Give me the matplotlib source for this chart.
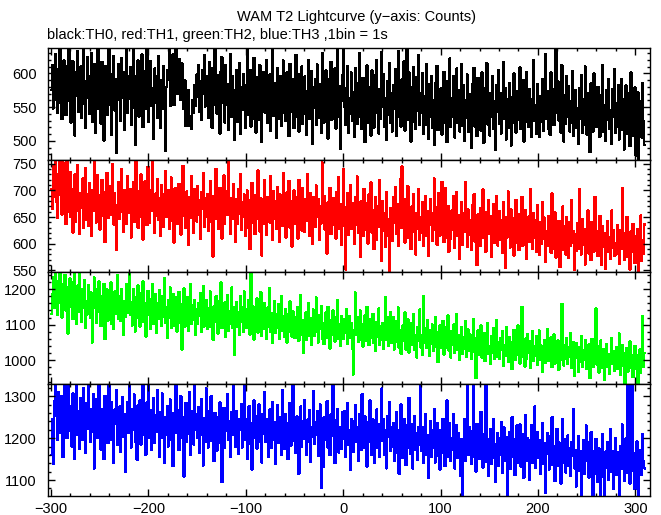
import numpy as np
import matplotlib
matplotlib.use("Agg")
import matplotlib.pyplot as plt
from matplotlib.ticker import MultipleLocator

plt.rcParams['font.family'] = ['Liberation Sans', 'DejaVu Sans']

title = "WAM T2 Lightcurve (y\u2212axis: Counts)"
subtitle = "black:TH0, red:TH1, green:TH2, blue:TH3 ,1bin = 1s"
t_start = -300
bin_width = 1

th0 = [
575, 612, 548, 597, 629, 560, 541, 606, 583, 641,
556, 532, 594, 619, 571, 538, 611, 585, 645, 559,
527, 580, 618, 551, 508, 601, 567, 633, 543, 592,
610, 534, 572, 640, 555, 519, 588, 624, 563, 540,
596, 630, 528, 574, 614, 512, 561, 603, 642, 547,
579, 525, 617, 590, 500, 566, 611, 538, 585, 648,
553, 598, 509, 577, 626, 545, 592, 482, 560, 613,
584, 530, 622, 563, 601, 516, 579, 636, 541, 595,
562, 609, 523, 587, 644, 549, 494, 596, 570, 619,
536, 591, 561, 628, 520, 603, 576, 548, 643, 566,
528, 585, 618, 552, 578, 503, 607, 557, 596, 534,
625, 569, 519, 590, 548, 611, 565, 485, 580, 604,
590, 638, 552, 597, 571, 628, 553, 604, 640, 569,
575, 621, 588, 560, 615, 578, 547, 590, 522, 560,
522, 575, 522, 537, 518, 560, 541, 583, 552, 598,
565, 612, 543, 588, 531, 604, 570, 627, 551, 580,
596, 534, 617, 562, 585, 519, 608, 553, 635, 571,
540, 597, 566, 511, 603, 624, 557, 588, 527, 612,
553, 584, 516, 567, 628, 535, 596, 549, 502, 575,
604, 528, 563, 615, 510, 579, 546, 599, 560, 519,
583, 636, 539, 562, 605, 521, 576, 533, 623, 556,
512, 594, 567, 531, 612, 548, 498, 581, 602, 542,
571, 620, 526, 559, 598, 515, 552, 638, 537, 585,
557, 505, 608, 572, 533, 596, 522, 563, 619, 541,
580, 529, 601, 558, 507, 614, 570, 543, 592, 519,
564, 627, 536, 578, 514, 599, 550, 610, 525, 569,
595, 540, 509, 574, 620, 532, 561, 603, 496, 579,
549, 592, 524, 613, 566, 534, 584, 512, 630, 557,
527, 576, 604, 545, 503, 591, 560, 617, 531, 570,
541, 607, 518, 568, 634, 536, 581, 488, 559, 597,
642, 550, 523, 578, 611, 512, 563, 540, 601, 529,
572, 506, 608, 551, 525, 586, 630, 535, 561, 517,
593, 545, 498, 569, 612, 527, 580, 549, 508, 604,
558, 519, 597, 541, 620, 565, 511, 577, 533, 632,
550, 599, 520, 563, 501, 588, 538, 615, 526, 570,
514, 583, 547, 606, 507, 560, 633, 536, 575, 521,
591, 542, 618, 515, 566, 641, 531, 601, 553, 499,
579, 528, 609, 556, 517, 594, 545, 627, 524, 571,
541, 600, 511, 566, 523, 613, 550, 503, 584, 536,
596, 519, 560, 494, 585, 540, 611, 516, 572, 530,
578, 509, 549, 602, 527, 567, 498, 589, 543, 622,
520, 563, 535, 596, 505, 555, 607, 526, 575, 514,
551, 614, 522, 582, 500, 560, 534, 598, 513, 569,
537, 489, 584, 548, 608, 521, 567, 507, 593, 530,
563, 515, 601, 542, 497, 578, 532, 615, 524, 556,
508, 571, 536, 596, 518, 559, 486, 583, 543, 605,
525, 570, 511, 549, 617, 533, 578, 502, 561, 519,
586, 540, 493, 565, 526, 600, 547, 512, 574, 531,
557, 609, 517, 544, 590, 499, 568, 528, 602, 549,
520, 577, 538, 506, 562, 619, 530, 553, 511, 584,
543, 506, 566, 528, 591, 515, 555, 628, 532, 574,
518, 560, 509, 601, 537, 577, 523, 551, 640, 541,
588, 530, 562, 512, 612, 547, 499, 568, 525, 596,
535, 581, 514, 558, 527, 603, 508, 554, 575, 519,
549, 496, 578, 533, 597, 512, 561, 524, 610, 542,
509, 570, 531, 483, 585, 540, 514, 600, 526, 561,
520, 580, 539, 506, 568, 529, 612, 513, 552, 500,
575, 531, 592, 518, 546, 495, 577, 535, 606, 512,
556, 521, 583, 502, 538, 591, 516, 562, 487, 544,
582, 510, 536, 571, 492, 601, 523, 553, 507, 579,
478, 533, 572, 462, 520, 558, 505, 586, 529, 494,
]

th1 = [
702, 666, 745, 688, 770, 679, 648, 731, 705, 765,
690, 655, 752, 672, 718, 637, 760, 697, 660, 735,
650, 703, 621, 689, 730, 641, 680, 748, 662, 618,
695, 668, 722, 630, 684, 742, 645, 692, 633, 713,
673, 615, 701, 661, 762, 678, 640, 729, 664, 691,
627, 686, 720, 652, 697, 603, 675, 733, 648, 688,
708, 655, 683, 750, 636, 694, 661, 589, 672, 716,
646, 692, 739, 660, 622, 701, 671, 638, 727, 684,
658, 703, 612, 677, 715, 641, 690, 760, 666, 630,
698, 650, 730, 673, 608, 688, 717, 659, 635, 744,
676, 640, 701, 662, 765, 680, 620, 694, 652, 721,
645, 686, 615, 710, 667, 632, 692, 736, 650, 678,
700, 628, 664, 724, 643, 685, 602, 704, 659, 689,
637, 712, 673, 617, 693, 746, 653, 681, 630, 698,
670, 598, 688, 648, 727, 662, 621, 702, 672, 642,
708, 655, 682, 609, 696, 666, 733, 632, 686, 650,
693, 624, 675, 717, 641, 670, 576, 690, 655, 740,
646, 684, 628, 705, 661, 610, 688, 728, 637, 674,
698, 654, 758, 668, 618, 686, 647, 712, 664, 603,
683, 638, 702, 657, 731, 626, 677, 650, 692, 614,
664, 700, 630, 681, 590, 658, 714, 640, 678, 618,
691, 646, 737, 662, 623, 685, 578, 672, 637, 719,
655, 617, 688, 672, 640, 727, 660, 607, 698, 646,
679, 628, 706, 656, 603, 692, 667, 634, 733, 643,
673, 612, 696, 652, 718, 630, 680, 595, 662, 700,
638, 688, 657, 610, 720, 648, 676, 625, 704, 655,
622, 683, 643, 730, 661, 615, 695, 650, 600, 687,
663, 632, 709, 651, 684, 607, 671, 638, 752, 655,
690, 626, 660, 582, 678, 645, 705, 618, 668, 636,
686, 652, 610, 697, 643, 725, 628, 675, 598, 660,
740, 633, 552, 668, 694, 617, 650, 710, 628, 676,
648, 600, 687, 636, 726, 620, 663, 575, 680, 640,
615, 703, 653, 627, 676, 600, 692, 645, 715, 621,
662, 590, 638, 688, 608, 671, 632, 720, 642, 568,
680, 624, 658, 594, 697, 647, 614, 550, 667, 633,
605, 688, 640, 706, 618, 655, 596, 675, 629, 722,
745, 630, 662, 602, 684, 641, 708, 611, 650, 590,
670, 622, 693, 644, 580, 657, 628, 703, 608, 649,
621, 678, 596, 650, 690, 614, 661, 577, 636, 684,
643, 605, 658, 722, 627, 668, 598, 648, 695, 615,
655, 716, 630, 603, 705, 645, 612, 671, 585, 634,
610, 662, 627, 690, 592, 640, 697, 615, 653, 572,
634, 678, 598, 657, 622, 716, 628, 594, 664, 617,
645, 589, 672, 623, 693, 604, 638, 560, 655, 620,
596, 667, 631, 702, 611, 643, 585, 659, 626, 682,
618, 652, 576, 636, 674, 601, 633, 690, 597, 627,
661, 608, 645, 583, 678, 622, 555, 650, 612, 698,
631, 593, 664, 614, 648, 578, 634, 682, 602, 623,
588, 656, 619, 688, 596, 638, 607, 663, 572, 628,
651, 603, 702, 620, 591, 657, 611, 645, 585, 672,
617, 579, 640, 600, 678, 610, 649, 566, 624, 596,
652, 606, 632, 583, 694, 613, 590, 659, 574, 621,
601, 643, 556, 618, 588, 670, 606, 633, 580, 650,
612, 574, 640, 596, 681, 602, 624, 551, 617, 586,
638, 590, 703, 609, 580, 646, 598, 627, 561, 614,
593, 662, 582, 619, 569, 641, 604, 585, 688, 598,
624, 577, 611, 652, 589, 560, 633, 594, 619, 553,
606, 642, 584, 613, 571, 662, 592, 626, 578, 601,
580, 635, 600, 562, 625, 590, 705, 609, 570, 620,
589, 650, 575, 610, 552, 623, 585, 637, 598, 564,
615, 576, 628, 549, 597, 653, 568, 607, 582, 636,
]

th2 = [
1130, 1185, 1232, 1148, 1255, 1196, 1128, 1222, 1161, 1244,
1188, 1120, 1214, 1157, 1240, 1139, 1205, 1075, 1170, 1230,
1150, 1219, 1115, 1192, 1252, 1163, 1102, 1210, 1136, 1260,
1178, 1108, 1199, 1147, 1226, 1090, 1167, 1129, 1212, 1154,
1118, 1190, 1050, 1146, 1232, 1160, 1105, 1201, 1137, 1221,
1168, 1096, 1181, 1125, 1214, 1060, 1150, 1199, 1112, 1177,
1139, 1218, 1101, 1171, 1088, 1193, 1131, 1155, 1240, 1117,
1180, 1110, 1201, 1146, 1072, 1166, 1122, 1215, 1134, 1186,
1255, 1128, 1162, 1098, 1200, 1141, 1081, 1178, 1119, 1210,
1152, 1094, 1187, 1130, 1221, 1107, 1160, 1066, 1144, 1195,
1128, 1172, 1088, 1152, 1214, 1103, 1140, 1186, 1077, 1160,
1115, 1198, 1135, 1096, 1180, 1122, 1230, 1105, 1150, 1062,
1168, 1120, 1204, 1090, 1146, 1186, 1097, 1133, 1176, 1080,
1140, 1192, 1106, 1157, 1030, 1128, 1202, 1094, 1149, 1115,
1177, 1083, 1135, 1215, 1101, 1155, 1113, 1168, 1070, 1142,
1102, 1160, 1124, 1188, 1079, 1133, 1208, 1095, 1121, 1170,
1088, 1146, 1113, 1193, 1093, 1130, 1057, 1152, 1107, 1180,
1127, 1075, 1166, 1112, 1218, 1090, 1140, 1098, 1162, 1066,
1118, 1183, 1082, 1139, 1101, 1204, 1092, 1150, 1015, 1126,
1164, 1093, 1134, 1070, 1180, 1109, 1148, 1080, 1193, 1120,
1091, 1142, 1105, 1170, 1072, 1255, 1097, 1151, 1058, 1128,
1102, 1174, 1078, 1136, 1106, 1191, 1068, 1125, 1088, 1160,
1112, 1060, 1148, 1095, 1203, 1080, 1131, 1048, 1107, 1167,
1076, 1130, 1090, 1157, 1060, 1116, 1180, 1083, 1124, 1066,
1143, 1097, 1050, 1128, 1081, 1165, 1106, 1066, 1137, 1091,
1062, 1121, 1080, 1150, 1054, 1100, 1183, 1071, 1113, 1020,
1090, 1134, 1058, 1105, 1160, 1068, 1117, 1043, 1098, 1142,
1068, 1113, 1176, 1079, 1050, 1126, 1087, 1152, 1060, 1103,
1045, 1096, 1135, 1064, 1150, 1082, 1033, 1113, 1070, 1140,
1088, 1052, 1121, 1071, 1170, 1060, 1100, 1040, 1125, 1066,
1060, 1115, 1078, 1143, 1047, 1093, 1125, 1063, 1104, 1032,
960, 1085, 1190, 1070, 1122, 1052, 1093, 1140, 1058, 1101,
1038, 1087, 1126, 1055, 1150, 1072, 1043, 1114, 1062, 1095,
1130, 1049, 1090, 1025, 1107, 1066, 1145, 1044, 1096, 1058,
1104, 1033, 1085, 1178, 1056, 1120, 1040, 1088, 1135, 1048,
1078, 1122, 1030, 1068, 1110, 1052, 1148, 1036, 1083, 1018,
1052, 1097, 1064, 1134, 1030, 1076, 1115, 1021, 1060, 1104,
1043, 1088, 1130, 1028, 1070, 1008, 1094, 1055, 1142, 1036,
1070, 1015, 1180, 1050, 1090, 1034, 1113, 1058, 1012, 1084,
1047, 1100, 1025, 1065, 1122, 1038, 1080, 995, 1056, 1098,
1035, 1073, 1110, 1016, 1054, 1093, 1034, 1126, 1027, 1066,
1008, 1082, 1042, 1100, 1020, 1060, 1130, 1030, 1070, 1000,
1052, 1094, 1017, 1064, 1032, 1110, 1010, 1058, 1086, 1025,
1072, 1003, 1046, 1116, 1023, 1062, 950, 1040, 1083, 1014,
1055, 1098, 1008, 1044, 1077, 997, 1063, 1028, 1105, 1018,
1040, 990, 1067, 1020, 1090, 1003, 1046, 1112, 1010, 1051,
1005, 1062, 1028, 1082, 985, 1043, 1012, 1094, 1030, 995,
1066, 1018, 1050, 975, 1033, 1085, 1001, 1045, 1014, 1098,
1027, 990, 1058, 1150, 1010, 1040, 982, 1061, 1003, 1074,
1020, 1052, 978, 1030, 1081, 998, 1038, 1011, 1067, 986,
1030, 1083, 1000, 1041, 968, 1020, 1056, 993, 1032, 1088,
997, 1036, 1012, 1065, 980, 1022, 1072, 990, 1045, 1005,
1055, 973, 1030, 1000, 1158, 1018, 985, 1043, 1004, 1062,
990, 1037, 1010, 1075, 978, 1021, 1050, 955, 1006, 1048,
1012, 968, 1036, 996, 1068, 982, 1028, 1001, 1056, 975,
1022, 990, 1045, 950, 1008, 1060, 980, 1018, 995, 1145,
988, 1040, 965, 1010, 1055, 978, 1003, 1032, 945, 997,
1046, 980, 1016, 962, 1006, 1062, 990, 1025, 970, 1002,
1037, 975, 1011, 1075, 958, 998, 1042, 983, 1020, 935,
996, 1035, 968, 1005, 1052, 978, 1014, 952, 997, 1040,
976, 1013, 930, 992, 1030, 964, 1004, 1125, 981, 1020,
]

th3 = [
1160, 1245, 1138, 1288, 1335, 1252, 1196, 1310, 1270, 1212,
1300, 1225, 1155, 1265, 1330, 1241, 1200, 1345, 1278, 1218,
1262, 1180, 1306, 1236, 1150, 1275, 1333, 1208, 1263, 1175,
1295, 1238, 1195, 1320, 1255, 1165, 1284, 1222, 1340, 1247,
1190, 1270, 1214, 1305, 1128, 1236, 1293, 1201, 1262, 1325,
1226, 1172, 1270, 1246, 1150, 1300, 1210, 1262, 1188, 1340,
1253, 1195, 1285, 1220, 1140, 1268, 1233, 1315, 1183, 1246,
1275, 1168, 1236, 1298, 1203, 1257, 1120, 1230, 1286, 1212,
1330, 1242, 1178, 1268, 1220, 1304, 1192, 1250, 1148, 1278,
1224, 1290, 1185, 1260, 1338, 1207, 1246, 1160, 1285, 1230,
1345, 1200, 1266, 1172, 1240, 1296, 1188, 1255, 1215, 1315,
1236, 1155, 1262, 1200, 1306, 1223, 1140, 1250, 1208, 1276,
1180, 1246, 1292, 1197, 1233, 1133, 1260, 1222, 1325, 1212,
1266, 1172, 1240, 1300, 1201, 1250, 1108, 1232, 1284, 1190,
1248, 1210, 1310, 1160, 1230, 1265, 1185, 1345, 1220, 1258,
1200, 1273, 1165, 1238, 1292, 1208, 1135, 1247, 1190, 1318,
1228, 1178, 1265, 1212, 1300, 1193, 1240, 1145, 1260, 1218,
1170, 1250, 1205, 1285, 1188, 1095, 1232, 1272, 1176, 1243,
1218, 1305, 1196, 1240, 1155, 1262, 1207, 1330, 1226, 1180,
1265, 1203, 1162, 1246, 1220, 1282, 1178, 1230, 1340, 1195,
1244, 1150, 1222, 1276, 1187, 1236, 1125, 1226, 1290, 1200,
1252, 1175, 1233, 1280, 1192, 1228, 1142, 1258, 1210, 1310,
1190, 1244, 1206, 1155, 1268, 1220, 1176, 1286, 1197, 1238,
1138, 1226, 1278, 1188, 1250, 1210, 1160, 1315, 1218, 1174,
1258, 1200, 1236, 1150, 1222, 1284, 1182, 1233, 1340, 1194,
1230, 1165, 1252, 1206, 1115, 1224, 1275, 1180, 1240, 1198,
1290, 1214, 1160, 1244, 1190, 1266, 1143, 1226, 1203, 1312,
1186, 1238, 1208, 1264, 1157, 1216, 1280, 1082, 1230, 1132,
1250, 1196, 1228, 1288, 1178, 1222, 1160, 1256, 1206, 1325,
1215, 1140, 1242, 1190, 1270, 1166, 1225, 1208, 1174, 1262,
1198, 1265, 1155, 1232, 1284, 1184, 1220, 1125, 1245, 1205,
1168, 1240, 1278, 1190, 1226, 1146, 1258, 1210, 1172, 1305,
1230, 1176, 1252, 1204, 1132, 1238, 1192, 1290, 1215, 1160,
1245, 1197, 1140, 1222, 1268, 1176, 1232, 1155, 1210, 1318,
1194, 1244, 1160, 1218, 1128, 1252, 1202, 1285, 1170, 1225,
1180, 1236, 1145, 1208, 1262, 1166, 1218, 1115, 1196, 1280,
1214, 1152, 1246, 1188, 1136, 1230, 1176, 1296, 1202, 1162,
1232, 1128, 1198, 1252, 1172, 1212, 1148, 1226, 1185, 1335,
1170, 1225, 1140, 1200, 1258, 1160, 1208, 1105, 1190, 1240,
1155, 1218, 1178, 1270, 1142, 1196, 1236, 1158, 1204, 1125,
1220, 1164, 1246, 1182, 1133, 1210, 1290, 1156, 1192, 1235,
1145, 1200, 1172, 1258, 1128, 1190, 1230, 1152, 1212, 1165,
1110, 1198, 1055, 1180, 1245, 1145, 1208, 1340, 1160, 1226,
1186, 1138, 1216, 1335, 1156, 1195, 1120, 1234, 1168, 1205,
1150, 1262, 1180, 1130, 1210, 1164, 1340, 1143, 1198, 1110,
1174, 1222, 1138, 1192, 1245, 1153, 1095, 1186, 1212, 1135,
1200, 1160, 1238, 1118, 1182, 1225, 1145, 1203, 1060, 1170,
1214, 1126, 1190, 1250, 1155, 1198, 1112, 1176, 1230, 1140,
1186, 1232, 1132, 1172, 1210, 1105, 1190, 1255, 1146, 1200,
1166, 1100, 1196, 1230, 1142, 1180, 1275, 1130, 1175, 1215,
1152, 1196, 1115, 1172, 1236, 1138, 1188, 1070, 1163, 1212,
1176, 1125, 1204, 1160, 1250, 1136, 1180, 1098, 1170, 1222,
1135, 1190, 1155, 1092, 1180, 1245, 1142, 1198, 1118, 1166,
1206, 1134, 1176, 1110, 1190, 1158, 1268, 1128, 1172, 1085,
1168, 1205, 1122, 1170, 1065, 1150, 1196, 1115, 1178, 1230,
1145, 1190, 1106, 1162, 1214, 1128, 1055, 1168, 1115, 1198,
1160, 1096, 1176, 1140, 1048, 1152, 1210, 1108, 1050, 1168,
1130, 1190, 1100, 1158, 1222, 1120, 1168, 1080, 1145, 1200,
1112, 1166, 1140, 1045, 1180, 1126, 1232, 1150, 1098, 1175,
1200, 1118, 1345, 1155, 1092, 1140, 1330, 1122, 1165, 1078,
1150, 1192, 1105, 1045, 1136, 1172, 1112, 1210, 1145, 1128,
]

series = [th0, th1, th2, th3]
colors = ['black', '#ff0000', '#00ff00', '#0000ff']
ylims = [(471.5, 637.5), (547, 757), (933, 1248), (1062, 1329)]
ymajor = [50, 50, 100, 100]
yminor = [10, 10, 20, 20]

W, H = 661, 515
fig = plt.figure(figsize=(W / 100, H / 100), dpi=100)
left, right, top, bottom = 48 / W, 650 / W, 1 - 48 / H, 1 - 496 / H
ph = (top - bottom) / 4

axes = []
for i, (vals, c) in enumerate(zip(series, colors)):
    ax = fig.add_axes([left, top - (i + 1) * ph, right - left, ph])
    edges = t_start + bin_width * np.arange(len(vals) + 1)
    ax.stairs(vals, edges, color=c, linewidth=1.0, baseline=None, antialiased=False)
    ax.set_xlim(-303, 315)
    ax.set_ylim(*ylims[i])
    ax.xaxis.set_major_locator(MultipleLocator(100))
    ax.xaxis.set_minor_locator(MultipleLocator(20))
    ax.yaxis.set_major_locator(MultipleLocator(ymajor[i]))
    ax.yaxis.set_minor_locator(MultipleLocator(yminor[i]))
    ax.tick_params(which='both', direction='in', top=True, right=True, labelsize=10.5, width=1.0)
    ax.tick_params(which='major', length=5)
    ax.tick_params(which='minor', length=2.5)
    ax.tick_params(axis='y', pad=8)
    ax.tick_params(axis='x', pad=4)
    if i < 3:
        ax.tick_params(labelbottom=False)
    for s in ax.spines.values():
        s.set_linewidth(1.0)
    axes.append(ax)

fig.text(356 / W, 1 - 17 / H, title, ha='center', va='center', fontsize=10.5)
fig.text(47 / W, 1 - 35 / H, subtitle, ha='left', va='center', fontsize=10.5)

fig.savefig('out.png', dpi=100)
